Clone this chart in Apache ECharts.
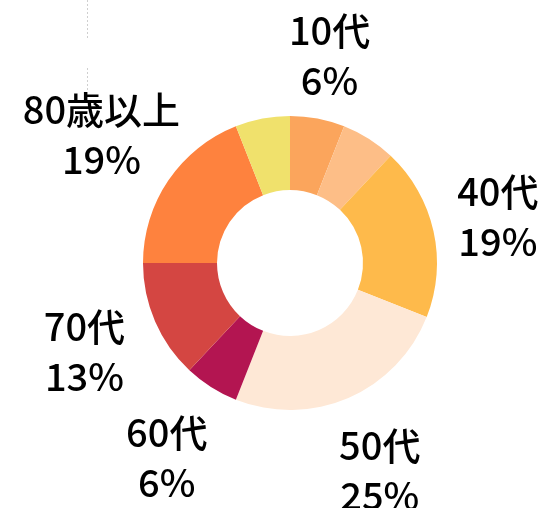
<!DOCTYPE html>
<html>
<head>
<meta charset="utf-8">
<script src="https://cdn.jsdelivr.net/npm/echarts@6/dist/echarts.min.js"></script>
<style>
  html, body { margin: 0; padding: 0; background: #fff; }
  #chart { width: 550px; height: 508px; }
</style>
</head>
<body>
<div id="chart"></div>
<script>
// age groups, clockwise from 12 o'clock
const ageGroups = ['10代', '20・30代', '40代', '50代', '60代', '70代', '80歳以上', '不明'];
const shares = [6, 6, 19, 25, 6, 13, 19, 6];
const showLabel = [true, false, true, true, true, true, true, false];

const sliceColors = ['#fba55c', '#fdbe87', '#feba4b', '#fee8d6', '#b31551', '#d44642', '#fe823e', '#f0e16c'];
// how far each label sits from the centre (px)
const labelDistance = [211, 211, 213, 226, 230, 224, 228, 211];

const cx = 290, cy = 263;
const total = shares.reduce((a, b) => a + b, 0);

const chart = echarts.init(document.getElementById('chart'));

chart.setOption({
  animation: false,
  graphic: [
    { type: 'line', shape: { x1: 87.5, y1: 0, x2: 87.5, y2: 38 }, style: { stroke: '#cfcfcf', lineWidth: 1, lineDash: [2, 2] } },
    { type: 'line', shape: { x1: 87.5, y1: 68, x2: 87.5, y2: 92 }, style: { stroke: '#cfcfcf', lineWidth: 1, lineDash: [2, 2] } }
  ],
  series: [
    {
      type: 'pie',
      center: [cx, cy],
      radius: [73, 147],
      startAngle: 90,
      clockwise: true,
      silent: true,
      itemStyle: { borderWidth: 0 },
      label: {
        position: 'outside',
        color: '#000',
        fontFamily: '"Noto Sans CJK JP", "Noto Sans", sans-serif',
        fontSize: 38,
        fontWeight: 500,
        lineHeight: 50,
        overflow: 'none',
        formatter: p => p.name + '\n' + Math.round(p.percent) + '%'
      },
      labelLine: { show: false },
      labelLayout: p => {
        const i = p.dataIndex;
        let before = 0;
        for (let k = 0; k < i; k++) before += shares[k];
        const a = (before + shares[i] / 2) / total * Math.PI * 2;
        const r = labelDistance[i];
        return {
          x: cx + Math.sin(a) * r,
          y: cy - Math.cos(a) * r,
          align: 'center',
          verticalAlign: 'middle',
          hideOverlap: false,
          moveOverlap: null
        };
      },
      data: ageGroups.map((name, i) => ({
        name: name,
        value: shares[i],
        itemStyle: { color: sliceColors[i] },
        label: { show: showLabel[i] }
      }))
    }
  ]
});
</script>
</body>
</html>
